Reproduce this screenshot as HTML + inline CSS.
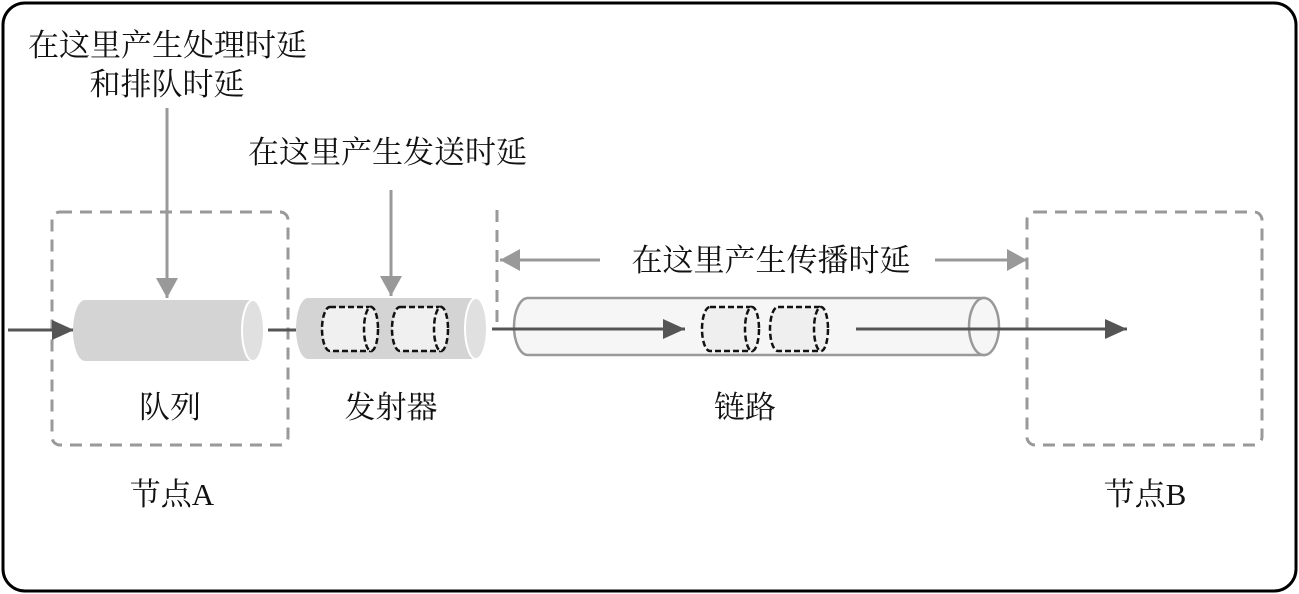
<!DOCTYPE html>
<html><head><meta charset="utf-8"><style>
html,body{margin:0;padding:0;background:#fff;width:1299px;height:594px;overflow:hidden}
text{font-family:"Liberation Serif","Noto Serif CJK SC",serif;fill:#111}
</style></head><body>
<svg width="1299" height="594" viewBox="0 0 1299 594" xmlns="http://www.w3.org/2000/svg">
<defs>
<marker id="ad" markerWidth="22" markerHeight="20" refX="22" refY="10" orient="auto" markerUnits="userSpaceOnUse" viewBox="0 0 22 20"><path d="M0,0 L22,10 L0,20z" fill="#555"/></marker>
<marker id="ag" markerWidth="20" markerHeight="22" refX="20" refY="11" orient="auto" markerUnits="userSpaceOnUse" viewBox="0 0 20 22"><path d="M0,0 L20,11 L0,22z" fill="#999"/></marker>
</defs>
<rect x="3" y="3" width="1293" height="588" rx="22" fill="#fff" stroke="#000" stroke-width="3"/>

<rect x="52" y="212" width="236" height="233" rx="8" fill="none" stroke="#999" stroke-width="3" stroke-dasharray="12,8"/>
<rect x="1027" y="212" width="235" height="233" rx="8" fill="none" stroke="#999" stroke-width="3" stroke-dasharray="12,8"/>
<line x1="497" y1="210" x2="497" y2="326" stroke="#999" stroke-width="3" stroke-dasharray="12,8"/>

<text x="28" y="56" font-size="31">在这里产生处理时延</text>
<text x="167" y="95" font-size="31" text-anchor="middle">和排队时延</text>
<text x="248" y="163" font-size="31">在这里产生发送时延</text>
<line x1="167" y1="108" x2="167" y2="298" stroke="#999" stroke-width="3" marker-end="url(#ag)"/>
<line x1="391" y1="190" x2="391" y2="296" stroke="#999" stroke-width="3" marker-end="url(#ag)"/>

<text x="771" y="271" font-size="31" text-anchor="middle">在这里产生传播时延</text>
<line x1="600" y1="260" x2="500" y2="260" stroke="#999" stroke-width="3" marker-end="url(#ag)"/>
<line x1="935" y1="260" x2="1027" y2="260" stroke="#999" stroke-width="3" marker-end="url(#ag)"/>

<line x1="8" y1="330" x2="74" y2="330" stroke="#555" stroke-width="3" marker-end="url(#ad)"/>
<path d="M85,300 L253,300 L253,361 L85,361 A12,30.5 0 0 1 85,300z" fill="#d4d4d4"/>
<ellipse cx="253" cy="330.5" rx="11" ry="30.5" fill="#e0e0e0" stroke="#fff" stroke-width="2"/>
<line x1="268" y1="330" x2="296" y2="330" stroke="#555" stroke-width="3"/>

<path d="M308,298 L476,298 L476,359 L308,359 A12,30.5 0 0 1 308,298z" fill="#d4d4d4"/>
<ellipse cx="476" cy="328.5" rx="11" ry="30.5" fill="#e0e0e0" stroke="#fff" stroke-width="2"/>
<g fill="#f0f0f0" stroke="#111" stroke-width="2.5" stroke-dasharray="6,3">
<path d="M330,307 L371,307 L371,351 L330,351 A8,22 0 0 1 330,307z"/>
<ellipse cx="371" cy="329" rx="7" ry="22"/>
<path d="M400,307 L441,307 L441,351 L400,351 A8,22 0 0 1 400,307z"/>
<ellipse cx="441" cy="329" rx="7" ry="22"/>
</g>
<line x1="492" y1="329" x2="514" y2="329" stroke="#555" stroke-width="3"/>

<path d="M528,298 L984,298 L984,355 L528,355 A14,28.5 0 0 1 528,298z" fill="#f6f6f6" stroke="#999" stroke-width="2.5"/>
<ellipse cx="984" cy="326.5" rx="15" ry="28.5" fill="#f6f6f6" stroke="#999" stroke-width="2.5"/>
<line x1="494" y1="329" x2="685" y2="329" stroke="#555" stroke-width="3" marker-end="url(#ad)"/>
<g fill="#efefef" stroke="#111" stroke-width="2.5" stroke-dasharray="6,3">
<path d="M710,307 L752,307 L752,351 L710,351 A8,22 0 0 1 710,307z"/>
<ellipse cx="752" cy="329" rx="7" ry="22"/>
<path d="M778,307 L821,307 L821,351 L778,351 A8,22 0 0 1 778,307z"/>
<ellipse cx="821" cy="329" rx="7" ry="22"/>
</g>
<line x1="856" y1="329" x2="1127" y2="329" stroke="#555" stroke-width="3" marker-end="url(#ad)"/>

<text x="170" y="418" font-size="31" text-anchor="middle">队列</text>
<text x="391" y="418" font-size="31" text-anchor="middle">发射器</text>
<text x="745" y="418" font-size="31" text-anchor="middle">链路</text>
<text x="172" y="505" font-size="31" text-anchor="middle">节点A</text>
<text x="1145" y="505" font-size="31" text-anchor="middle">节点B</text>
</svg>
</body></html>
